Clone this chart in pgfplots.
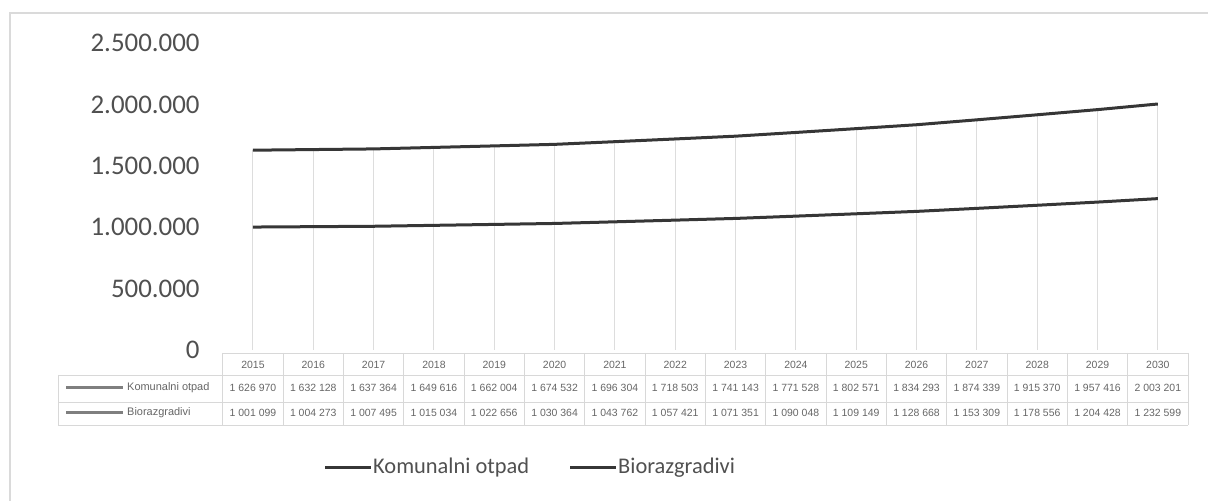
\documentclass[border=0pt]{standalone}
\usepackage{pgfplots}
\pgfplotsset{compat=1.18}
\usepackage{fontspec}
\setmainfont{Carlito}
\newfontfamily\tabfont{Liberation Sans}
\definecolor{lin}{HTML}{363636}
\definecolor{tick}{HTML}{505050}
\definecolor{frame}{HTML}{DADADA}
\definecolor{gridc}{HTML}{DDDDDD}
\definecolor{tabline}{HTML}{D8D8D8}
\definecolor{tabtext}{HTML}{666666}
\definecolor{keyc}{HTML}{7F7F7F}
\pgfplotstableread{
x kom bio
0 1626970 1001099
1 1632128 1004273
2 1637364 1007495
3 1649616 1015034
4 1662004 1022656
5 1674532 1030364
6 1696304 1043762
7 1718503 1057421
8 1741143 1071351
9 1771528 1090048
10 1802571 1109149
11 1834293 1128668
12 1874339 1153309
13 1915370 1178556
14 1957416 1204428
15 2003201 1232599
}\data
\begin{document}
\begin{tikzpicture}[x=1bp,y=1bp]
\useasboundingbox (0,0) rectangle (1208,501);
\draw[frame, line width=1.2bp] (10,0) -- (10,488) -- (1208,488);
\begin{axis}[at={(222.8bp,151bp)}, anchor=south west, scale only axis,
  width=965.2bp, height=307bp, xmin=-0.5, xmax=15.5, ymin=0, ymax=2500000,
  axis line style={draw=none}, xtick=\empty,
  ytick={0,500000,1000000,1500000,2000000,2500000},
  major tick length=0pt, scaled y ticks=false,
  /pgf/number format/fixed, /pgf/number format/1000 sep={.},
  /pgf/number format/assume math mode=true,
  yticklabel style={font=\fontsize{27}{29}\selectfont, text=tick, anchor=east, inner sep=0pt, xshift=-23bp},
  clip=false]
\addplot[ycomb, draw=gridc, line width=1bp, mark=none] table[x=x,y=kom]{\data};
\addplot[lin, line width=3bp, mark=none] table[x=x,y=kom]{\data};
\addplot[lin, line width=3bp, mark=none] table[x=x,y=bio]{\data};
\end{axis}
% data table
\draw[tabline, line width=0.8bp] (222.8,148) -- (1188,148);
\draw[tabline, line width=0.8bp] (58,126) -- (1188,126);
\draw[tabline, line width=0.8bp] (58,99) -- (1188,99);
\draw[tabline, line width=0.8bp] (58,76) -- (1188,76);
\draw[tabline, line width=0.8bp] (58,126) -- (58,76);
\foreach \i in {0,...,16}{
  \draw[tabline, line width=0.8bp] ({222.8+60.325*\i},148) -- ({222.8+60.325*\i},76);
}
\draw[keyc, line width=3bp] (66,113) -- (123,113);
\draw[keyc, line width=3bp] (66,88) -- (123,88);
\node[anchor=west, inner sep=0pt, text=tabtext, font=\tabfont\fontsize{11}{12}\selectfont] at (127,113) {Komunalni otpad};
\node[anchor=west, inner sep=0pt, text=tabtext, font=\tabfont\fontsize{11}{12}\selectfont] at (127,88) {Biorazgradivi};
\foreach \v [count=\i from 0] in {2015,2016,2017,2018,2019,2020,2021,2022,2023,2024,2025,2026,2027,2028,2029,2030}{
  \node[text=tabtext, inner sep=0pt, font=\tabfont\fontsize{10.5}{11}\selectfont] at ({252.96+60.325*\i},136) {\v};
}
\foreach \v [count=\i from 0] in {1 626 970,1 632 128,1 637 364,1 649 616,1 662 004,1 674 532,1 696 304,1 718 503,1 741 143,1 771 528,1 802 571,1 834 293,1 874 339,1 915 370,1 957 416,2 003 201}{
  \node[text=tabtext, inner sep=0pt, font=\tabfont\fontsize{10.5}{11}\selectfont] at ({252.96+60.325*\i},113) {\v};
}
\foreach \v [count=\i from 0] in {1 001 099,1 004 273,1 007 495,1 015 034,1 022 656,1 030 364,1 043 762,1 057 421,1 071 351,1 090 048,1 109 149,1 128 668,1 153 309,1 178 556,1 204 428,1 232 599}{
  \node[text=tabtext, inner sep=0pt, font=\tabfont\fontsize{10.5}{11}\selectfont] at ({252.96+60.325*\i},88) {\v};
}
% legend
\draw[lin, line width=3bp] (325,33) -- (371,33);
\node[anchor=west, inner sep=0pt, text=tick, font=\fontsize{22.5}{24}\selectfont] at (373,33) {Komunalni otpad};
\draw[lin, line width=3bp] (570,33) -- (616,33);
\node[anchor=west, inner sep=0pt, text=tick, font=\fontsize{22.5}{24}\selectfont] at (618,33) {Biorazgradivi};
\end{tikzpicture}
\end{document}
